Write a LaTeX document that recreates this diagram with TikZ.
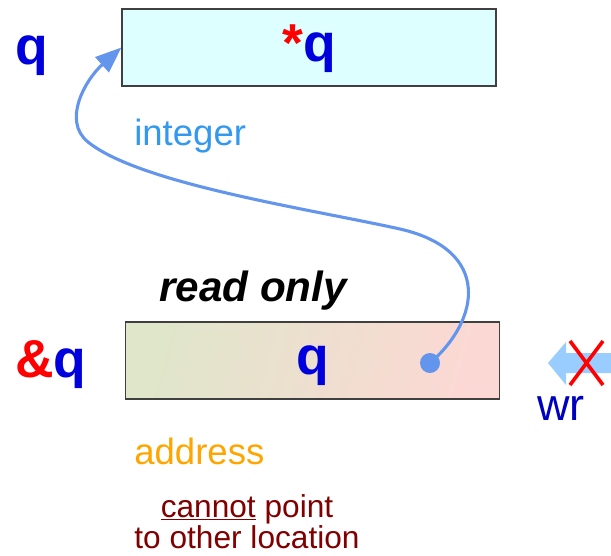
\documentclass[tikz,border=0pt]{standalone}
\usepackage{fontspec}
\setmainfont{Liberation Sans}
\usetikzlibrary{arrows.meta,positioning}
\definecolor{qblue}{HTML}{0000DD}
\definecolor{wrblue}{HTML}{0000C0}
\definecolor{intblue}{HTML}{3399EE}
\definecolor{curve}{HTML}{6495ED}
\definecolor{wrarrow}{HTML}{99CCFF}
\definecolor{addr}{HTML}{FFA500}
\definecolor{note}{HTML}{800000}
\definecolor{cellfill}{HTML}{DDFFFF}
\definecolor{shadeL}{HTML}{DFE6CA}
\definecolor{shadeR}{HTML}{FCD8D4}

\begin{document}
\begin{tikzpicture}[x=0.025cm,y=-0.025cm,
 cell/.style={draw=black!75,line width=0.8pt,minimum width=9.35cm,minimum height=1.925cm,inner sep=0},
 big/.style={font=\fontsize{38}{40}\selectfont\bfseries,inner sep=0,text height=28pt,text depth=8pt},
 lbl/.style={font=\fontsize{26}{30}\selectfont,inner sep=0},
 link/.style={-{Triangle[length=0.65cm,width=0.5cm]},draw=curve,line width=2.2pt}]
\useasboundingbox (0,0) rectangle (611,555);
% memory cells
\node[cell,big,fill=cellfill] (qbox) at (309,47.5) {\textcolor{red}{*}\textcolor{qblue}{q}};
\node[cell,big,left color=shadeL,right color=shadeR,
 shading angle=75] (pbox) at (312.5,360.5) {\textcolor{qblue}{q}};
% names
\node[big,anchor=base west,text=qblue,text height=,text depth=] (qname) at (15,64) {q};
\node[big,anchor=base west,text height=,text depth=] (pname) at (15,377) {\textcolor{red}{\&}\textcolor{qblue}{q}};
\node[lbl,anchor=base west,text=intblue] (int) at (134,145) {integer};
\node[lbl,anchor=base west,text=addr] (addr) at (134,464) {address};
\node[inner sep=0,anchor=base west,font=\fontsize{30}{30}\selectfont\bfseries\itshape] (ro) at (159,301) {read only};
\node[inner sep=0,anchor=north,align=center,text=note,
 font=\fontsize{22.5}{22}\selectfont] (cant) at (247,494) {\underline{cannot} point\\to other location};
% pointer
\draw[link] (pbox.center) ++(117.5,2.5) coordinate (p0)
 .. controls (480,320) and (492,250) .. (400,229)
 .. controls (310,209) and (140,184) .. (88,142)
 .. controls (62,121) and (85,80) .. (qbox.west);
\node[circle,fill=curve,minimum size=0.5cm,inner sep=0] (dot) at (p0) {};
% no write
\fill[wrarrow] (548,363) -- (566,342) -- (566,353) -- (611,353) -- (611,373)
 -- (566,373) -- (566,385) -- cycle;
\draw[red,line width=0.09cm] (570,341) -- (603,385) (570,385) -- (603,341);
\node[anchor=base west,inner sep=0,text=wrblue,font=\fontsize{32}{34}\selectfont] (wr) at (537,420) {wr};
\end{tikzpicture}
\end{document}
